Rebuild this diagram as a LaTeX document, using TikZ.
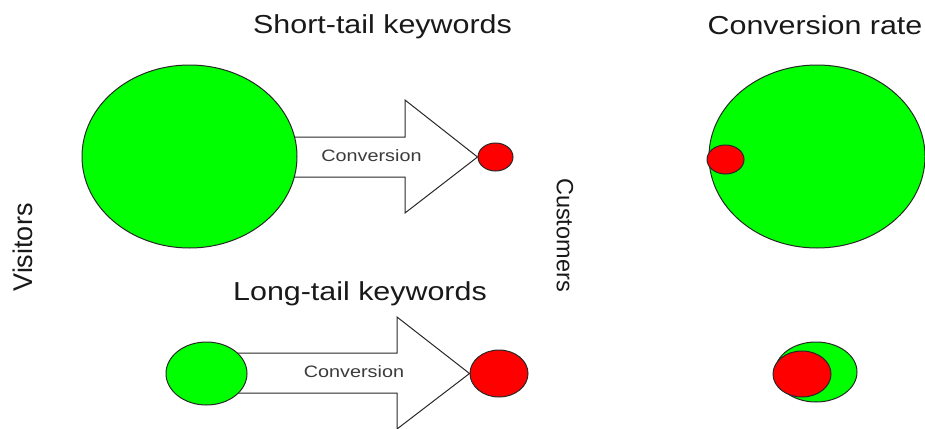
\documentclass[tikz,border=0pt]{standalone}
\usepackage{fontspec}
\setmainfont{Liberation Sans}
\usetikzlibrary{shapes.geometric}
\definecolor{leafgreen}{RGB}{0,255,0}
\definecolor{dotred}{RGB}{255,0,0}
\definecolor{outline}{RGB}{40,40,40}
\definecolor{ink}{RGB}{25,25,25}
\begin{document}
\begin{tikzpicture}[x=1pt,y=-1pt,
  blob/.style={ellipse, draw=outline, line width=1pt, inner sep=0pt},
  visitor/.style={blob, fill=leafgreen},
  buyer/.style={blob, fill=dotred},
  blockarrow/.style={draw=outline, fill=white, line width=1pt, line join=miter},
  title/.style={text=ink, font=\fontsize{26}{30}\selectfont, inner sep=0pt},
  flowlabel/.style={text=ink!85, font=\fontsize{16.5}{20}\selectfont, inner sep=0pt}]

\useasboundingbox (0,0) rectangle (925,428);

% customer dots (placed first so the arrow tips can reach them)
\node[buyer, minimum width=35pt, minimum height=28pt] (r1) at (495.5,157) {};
\node[buyer, minimum width=58pt, minimum height=47pt] (r2) at (499,373.5) {};

% short-tail block arrow
\draw[blockarrow] (190,137) -- (405,137) -- (405,100) -- (r1.west)
  -- (405,213) -- (405,177) -- (190,177) -- cycle;
% long-tail block arrow
\draw[blockarrow] (206,353) -- (397,353) -- (397,317) -- (r2.west)
  -- (397,429) -- (397,393) -- (206,393) -- cycle;

% visitor pools
\node[visitor, minimum width=215pt, minimum height=183pt] (g1) at (189.5,156.5) {};
\node[visitor, minimum width=81pt, minimum height=63pt] (g2) at (206.5,373.5) {};

% conversion rate comparison
\node[visitor, minimum width=216pt, minimum height=183pt] (g3) at (817,156.5) {};
\node[buyer, minimum width=37pt, minimum height=29pt] (r3) at (725.5,159.5) {};
\node[visitor, minimum width=82pt, minimum height=60pt] (g4) at (816,372) {};
\node[buyer, minimum width=58pt, minimum height=46pt] (r4) at (802,374) {};

% labels
\node[flowlabel] (c1) at (371.5,156) {\scalebox{1.2}[1]{Conversion}};
\node[flowlabel] (c2) at (354,372) {\scalebox{1.2}[1]{Conversion}};

\node[title] (t1) at (382.5,27) {\scalebox{1.17}[1]{Short-tail keywords}};
\node[title] (t2) at (815,25) {\scalebox{1.17}[1]{Conversion rate}};
\node[title] (t3) at (360,293.5) {\scalebox{1.17}[1]{Long-tail keywords}};

\node[title, font=\fontsize{27}{30}\selectfont, rotate=90] (v) at (23,247.5) {Visitors};
\node[title, font=\fontsize{23.5}{28}\selectfont, rotate=-90] (cu) at (565,235) {Customers};
\end{tikzpicture}
\end{document}
